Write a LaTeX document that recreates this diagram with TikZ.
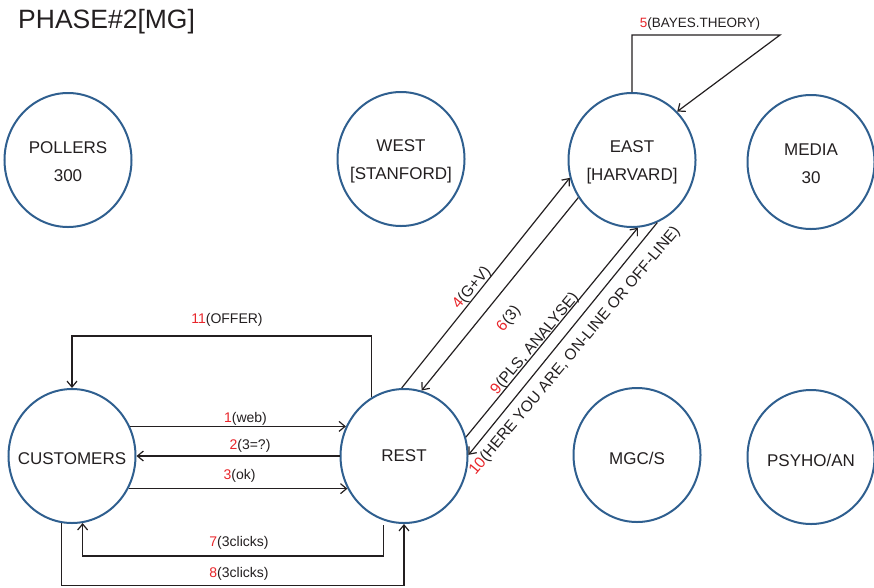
\documentclass[tikz,border=0pt]{standalone}
\usepackage{fontspec}
\setmainfont{Liberation Sans}
\usetikzlibrary{shapes.geometric,arrows.meta}
\definecolor{ringblue}{HTML}{2F5F8F}
\definecolor{numred}{HTML}{E8262B}
\definecolor{ink}{HTML}{231F20}

\begin{document}
\begin{tikzpicture}[x=1pt,y=-1pt,
  party/.style={draw=ringblue, line width=2pt, ellipse, minimum width=127pt,
    minimum height=134pt, inner sep=0pt},
  partytext/.style={align=center, text=ink, inner sep=0pt,
    font=\fontsize{17}{28}\selectfont},
  flow/.style={draw=ink, line width=1.2pt, -{Straight Barb[length=6pt,width=10pt]}},
  tag/.style={text=ink, font=\fontsize{14}{16}\selectfont, inner sep=0pt},
  dtag/.style={tag, font=\fontsize{15.5}{17}\selectfont, rotate=50},
]
\useasboundingbox (0,0) rectangle (874,587);

% title
\node[anchor=base west, text=ink, font=\fontsize{26.5}{30}\selectfont, inner sep=0pt]
  (title) at (18,28) {PHASE\#2[MG]};

% parties: the rings, then their names
\node[party] (pollers) at (68,160)  {};
\node[party] (west)    at (401,159) {};
\node[party] (east)    at (632,160) {};
\node[party] (media)   at (811,162) {};
\node[party] (cust)    at (72,456)  {};
\node[party] (rest)    at (404,456) {};
\node[party] (mgcs)    at (637,455) {};
\node[party] (psy)     at (811,457) {};

\node[partytext] (pollersT) at ([yshift=-2pt]pollers.center) {POLLERS\\300};
\node[partytext] (westT)    at ([yshift=-2pt]west.center)    {WEST\\{[STANFORD]}};
\node[partytext] (eastT)    at ([yshift=-2pt]east.center)    {EAST\\{[HARVARD]}};
\node[partytext] (mediaT)   at ([yshift=-2pt]media.center)   {MEDIA\\30};
\node[partytext] (custT)    at ([yshift=-3pt]cust.center)    {CUSTOMERS};
\node[partytext] (restT)    at ([yshift=0pt]rest.center)     {REST};
\node[partytext] (mgcsT)    at ([yshift=-3pt]mgcs.center)    {MGC/S};
\node[partytext] (psyT)     at ([yshift=-3pt]psy.center)     {PSYHO/AN};

% turning points of the routed connectors
\coordinate (bayesTurn) at (780,35);
\coordinate (offerTop)  at (0,336);
\coordinate (clickA)    at (0,556);
\coordinate (clickB)    at (0,585.5);

% customers <-> rest
\draw[flow] (cust.27) -- (rest.153);
\draw[flow] (rest.west) -- (cust.east);
\draw[flow] (cust.-30) -- (rest.210);
\draw[flow] (rest.119) -- (rest.119 |- offerTop) -| (cust.north);
\draw[flow, shorten <=5pt] (rest.252) -- (rest.252 |- clickA) -| (cust.279);
\draw[flow] (cust.261) -- (cust.261 |- clickB) -| (rest.south);

% rest <-> east
\draw[flow] (rest.92) -- (east.196);
\draw[flow] (east.215) -- (rest.75);
\draw[flow] (rest.17) -- (east.275);
\draw[flow] (east.292) -- (rest.1);

% east self loop
\draw[flow] (east.north) |- (bayesTurn) -- (east.47);

% labels
\node[tag, font=\fontsize{13.5}{16}\selectfont] (l5) at (700,24.5) {\textcolor{numred}{5}(BAYES.THEORY)};
\node[tag] (l1)  at (245.5,418.5) {\textcolor{numred}{1}(web)};
\node[tag] (l2)  at (250,446)     {\textcolor{numred}{2}(3=?)};
\node[tag] (l3)  at (239.5,476)   {\textcolor{numred}{3}(ok)};
\node[tag] (l11) at (227,319.5)   {\textcolor{numred}{11}(OFFER)};
\node[tag] (l7)  at (239,543)     {\textcolor{numred}{7}(3clicks)};
\node[tag] (l8)  at (239,574)     {\textcolor{numred}{8}(3clicks)};

\node[dtag] (l4)  at (472,288) {\textcolor{numred}{4}(G+V)};
\node[dtag] (l6)  at (509,319) {\textcolor{numred}{6}(3)};
\node[dtag] (l9)  at (535,344) {\textcolor{numred}{9}(PLS, ANALYSE)};
\node[dtag] (l10) at (575,351) {\textcolor{numred}{10}(HERE YOU ARE, ON-LINE OR OFF-LINE)};
\end{tikzpicture}
\end{document}
